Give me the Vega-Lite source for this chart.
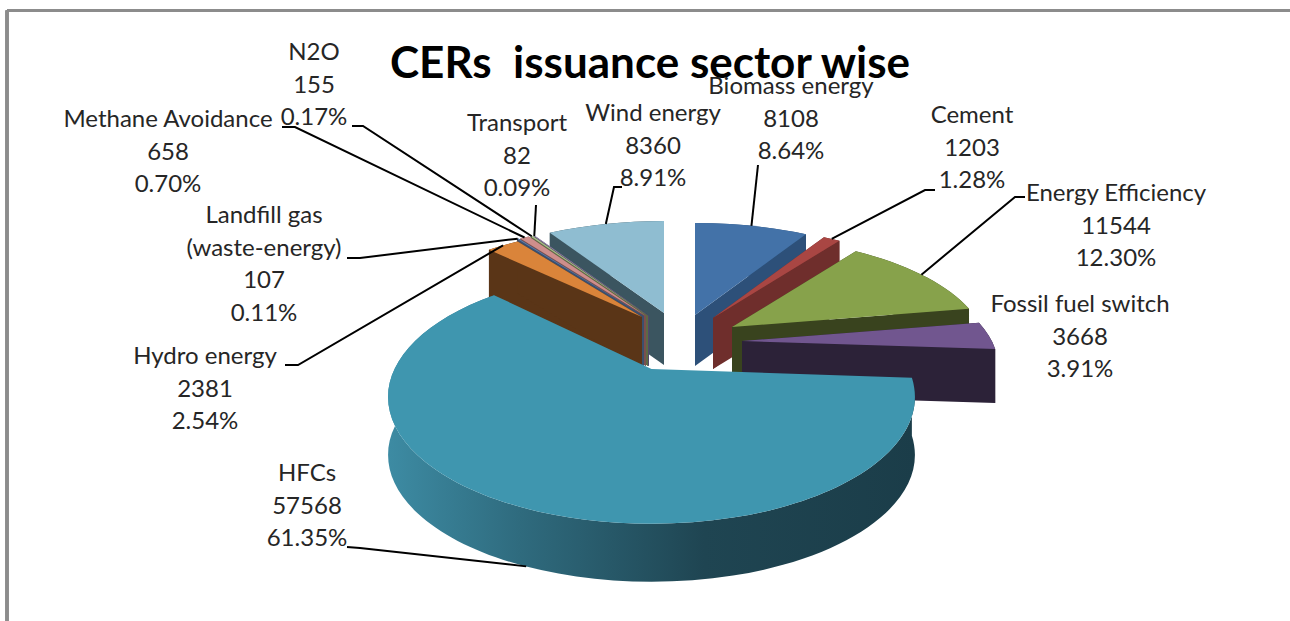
{"$schema":"https://vega.github.io/schema/vega-lite/v6.json","width":1290,"height":621,"padding":0,"autosize":{"type":"none"},"background":"white","config":{"view":{"stroke":null}},
"title":{"text":"CERs \u00a0issuance sector wise","anchor":"middle","frame":"group","font":"Lato","fontSize":44,"fontWeight":"bold","color":"#000000","offset":-87,"dx":5},
"params":[{"name":"geo","value":{
"Biomass energy":{"cx":695,"cy":315,"s":0.97,"q":0.44,"d":51,"z":6,"lx":791,"ly":87,"sx":758,"sy":165,"ex":758,"ey":165,"ld":0,"lo":0},
"Cement":{"cx":713,"cy":318,"s":0.97,"q":0.44,"d":51,"z":7,"lx":972,"ly":116,"sx":935,"sy":190,"ex":925,"ey":190,"ld":0,"lo":0},
"Energy Efficiency":{"cx":732,"cy":327,"s":0.95,"q":0.44,"d":52,"z":8,"lx":1116,"ly":194,"sx":1025,"sy":197,"ex":1015,"ey":197,"ld":0,"lo":0},
"Fossil fuel switch":{"cx":742,"cy":341,"s":0.95,"q":0.44,"d":54,"z":9,"lx":1080,"ly":305,"sx":0,"sy":0,"ex":0,"ey":0,"ld":0,"lo":0},
"HFCs":{"cx":651.5,"cy":369,"s":0.977,"q":0.47,"d":58,"z":10,"lx":307,"ly":474,"sx":347,"sy":547,"ex":360,"ey":548,"ld":60,"lo":8},
"Hydro energy":{"cx":642,"cy":317,"s":0.95,"q":0.44,"d":52,"z":5,"lx":205,"ly":357,"sx":285,"sy":365,"ex":298,"ey":365,"ld":0,"lo":0},
"Landfill gas (waste-energy)":{"cx":644,"cy":316,"s":0.97,"q":0.44,"d":50,"z":4,"lx":264,"ly":216,"sx":347,"sy":258,"ex":360,"ey":258,"ld":0,"lo":0},
"Methane Avoidance":{"cx":646,"cy":316,"s":0.97,"q":0.44,"d":50,"z":3,"lx":168,"ly":120,"sx":282,"sy":127,"ex":295,"ey":127,"ld":0,"lo":0},
"N2O":{"cx":648,"cy":316,"s":0.97,"q":0.44,"d":50,"z":2,"lx":314,"ly":53,"sx":352,"sy":126,"ex":363,"ey":126,"ld":0,"lo":0},
"Transport":{"cx":649,"cy":316,"s":0.97,"q":0.44,"d":50,"z":1,"lx":517,"ly":124,"sx":536,"sy":205,"ex":536,"ey":205,"ld":0,"lo":0},
"Wind energy":{"cx":664,"cy":313,"s":0.97,"q":0.44,"d":52,"z":0,"lx":653,"ly":114,"sx":622,"sy":187,"ex":614,"ey":187,"ld":0,"lo":0}
}}],
"data":{"values":[
{"sector":"Biomass energy","value":8108},
{"sector":"Cement","value":1203},
{"sector":"Energy Efficiency","value":11544},
{"sector":"Fossil fuel switch","value":3668},
{"sector":"HFCs","value":57568},
{"sector":"Hydro energy","value":2381},
{"sector":"Landfill gas (waste-energy)","value":107},
{"sector":"Methane Avoidance","value":658},
{"sector":"N2O","value":155},
{"sector":"Transport","value":82},
{"sector":"Wind energy","value":8360}
]},
"transform":[
{"window":[{"op":"sum","field":"value","as":"cum"}]},
{"joinaggregate":[{"op":"sum","field":"value","as":"total"}]},
{"calculate":"geo[datum.sector].cx","as":"cx"},
{"calculate":"geo[datum.sector].cy","as":"cy"},
{"calculate":"geo[datum.sector].lx","as":"lx"},
{"calculate":"geo[datum.sector].ly","as":"ly"},
{"calculate":"geo[datum.sector].d","as":"d"},
{"calculate":"geo[datum.sector].q","as":"q"},
{"calculate":"263*geo[datum.sector].s","as":"R"},
{"calculate":"(datum.cum-datum.value)/datum.total*2*PI","as":"a0"},
{"calculate":"datum.cum/datum.total*2*PI","as":"a1"},
{"calculate":"(datum.a0+datum.a1)/2","as":"am"},
{"calculate":"datum.R*sin(datum.a0)/(1+0.22*cos(datum.a0))","as":"x0"},
{"calculate":"-datum.R*datum.q*cos(datum.a0)/(1+0.22*cos(datum.a0))","as":"y0"},
{"calculate":"datum.R*sin(datum.a1)/(1+0.22*cos(datum.a1))","as":"x1"},
{"calculate":"-datum.R*datum.q*cos(datum.a1)/(1+0.22*cos(datum.a1))","as":"y1"},
{"calculate":"datum.R*sin(datum.am)/(1+0.22*cos(datum.am))","as":"xm"},
{"calculate":"-datum.R*datum.q*cos(datum.am)/(1+0.22*cos(datum.am))","as":"ym"},
{"calculate":"datum.R/sqrt(1-0.0484)","as":"rx"},
{"calculate":"datum.R*datum.q/(1-0.0484)","as":"ry"},
{"calculate":"(datum.a1-datum.a0)>PI?1:0","as":"large"},
{"calculate":"'M0,0L'+datum.x0+','+datum.y0+'A'+datum.rx+','+datum.ry+' 0 '+datum.large+' 1 '+datum.x1+','+datum.y1+'Z'","as":"topPath"},
{"calculate":"'M'+datum.x0+','+datum.y0+'A'+datum.rx+','+datum.ry+' 0 '+datum.large+' 1 '+datum.x1+','+datum.y1+'L'+datum.x1+','+(datum.y1+datum.d)+'A'+datum.rx+','+datum.ry+' 0 '+datum.large+' 0 '+datum.x0+','+(datum.y0+datum.d)+'Z'","as":"rimPath"},
{"calculate":"'M0,0L'+datum.x0+','+datum.y0+'L'+datum.x0+','+(datum.y0+datum.d)+'L0,'+datum.d+'Z'","as":"face0"},
{"calculate":"'M0,0L'+datum.x1+','+datum.y1+'L'+datum.x1+','+(datum.y1+datum.d)+'L0,'+datum.d+'Z'","as":"face1"},
{"calculate":"'M'+(geo[datum.sector].sx-datum.cx)+','+(geo[datum.sector].sy-datum.cy)+'L'+(geo[datum.sector].ex-datum.cx)+','+(geo[datum.sector].ey-datum.cy)+'L'+(datum.xm+geo[datum.sector].lo)+','+(datum.ym+geo[datum.sector].ld)","as":"leadPath"},
{"calculate":"replace(datum.sector,' (','\\n(')+'\\n'+datum.value+'\\n'+format(datum.value/datum.total,'.2%')","as":"label"}
],
"layer":[
{"transform":[{"filter":"datum.sector!=='HFCs'"},{"fold":["rimPath","face0","face1","topPath"],"as":["part","path"]},{"calculate":"datum.part==='topPath'?'top':'wall'","as":"kind"},{"calculate":"datum.sector+'|'+datum.kind","as":"colorKey"},{"calculate":"geo[datum.sector].z*2+(datum.kind==='top'?1:0)","as":"z"}],
"mark":{"type":"point","filled":true,"size":4,"opacity":1,"strokeWidth":0},
"encoding":{"x":{"field":"cx","type":"quantitative","scale":{"domain":[0,1290],"nice":false,"zero":false},"axis":null},"y":{"field":"cy","type":"quantitative","scale":{"domain":[621,0],"nice":false,"zero":false},"axis":null},"shape":{"field":"path","type":"nominal","scale":null},"order":{"field":"z","type":"quantitative"},
"color":{"field":"colorKey","type":"nominal","legend":null,"scale":{"domain":["Biomass energy|top","Biomass energy|wall","Cement|top","Cement|wall","Energy Efficiency|top","Energy Efficiency|wall","Fossil fuel switch|top","Fossil fuel switch|wall","Hydro energy|top","Hydro energy|wall","Landfill gas (waste-energy)|top","Landfill gas (waste-energy)|wall","Methane Avoidance|top","Methane Avoidance|wall","N2O|top","N2O|wall","Transport|top","Transport|wall","Wind energy|top","Wind energy|wall"],
"range":["#4372a8","#2d5079","#a94643","#6f2e2c","#87a24b","#39431e","#71568f","#2c2238","#da843a","#5a3517","#5b7fb0","#3b4f6e","#ce8e8c","#7a4f4e","#a5b989","#5d6a45","#9a8ab0","#54486b","#8fbdd1","#3b5560"]}}}},
{"transform":[{"filter":"datum.sector==='HFCs'"},{"fold":["rimPath"],"as":["part","path"]}],
"mark":{"type":"point","filled":true,"size":4,"opacity":1,"strokeWidth":0,"fill":{"gradient":"linear","x1":0,"y1":0,"x2":1,"y2":0,"stops":[{"offset":0,"color":"#3d8ba3"},{"offset":0.25,"color":"#2f6b7e"},{"offset":0.6,"color":"#1f4552"},{"offset":1,"color":"#1b3d49"}]}},
"encoding":{"x":{"field":"cx","type":"quantitative"},"y":{"field":"cy","type":"quantitative"},"shape":{"field":"path","type":"nominal","scale":null}}},
{"transform":[{"filter":"datum.sector==='HFCs'"},{"fold":["topPath"],"as":["part","path"]}],
"mark":{"type":"point","filled":true,"size":4,"opacity":1,"strokeWidth":0,"fill":"#3f96af"},
"encoding":{"x":{"field":"cx","type":"quantitative"},"y":{"field":"cy","type":"quantitative"},"shape":{"field":"path","type":"nominal","scale":null}}},
{"transform":[{"filter":"datum.sector!=='Fossil fuel switch'"}],
"mark":{"type":"point","filled":false,"size":4,"opacity":1,"stroke":"#000000","strokeWidth":2,"fill":null},
"encoding":{"x":{"field":"cx","type":"quantitative"},"y":{"field":"cy","type":"quantitative"},"shape":{"field":"leadPath","type":"nominal","scale":null}}},
{"mark":{"type":"text","font":"Lato","fontSize":24,"lineBreak":"\n","lineHeight":32.5,"align":"center","baseline":"middle","color":"#262626"},
"encoding":{"x":{"field":"lx","type":"quantitative"},"y":{"field":"ly","type":"quantitative"},"text":{"field":"label","type":"nominal"}}},
{"mark":{"type":"rule","color":"#8c8c8c","strokeWidth":2.5},"encoding":{"x":{"datum":7},"y":{"datum":10.5},"y2":{"datum":621}}},
{"mark":{"type":"rule","color":"#8c8c8c","strokeWidth":2.5},"encoding":{"x":{"datum":7},"x2":{"datum":1290},"y":{"datum":10.5}}}
]}
